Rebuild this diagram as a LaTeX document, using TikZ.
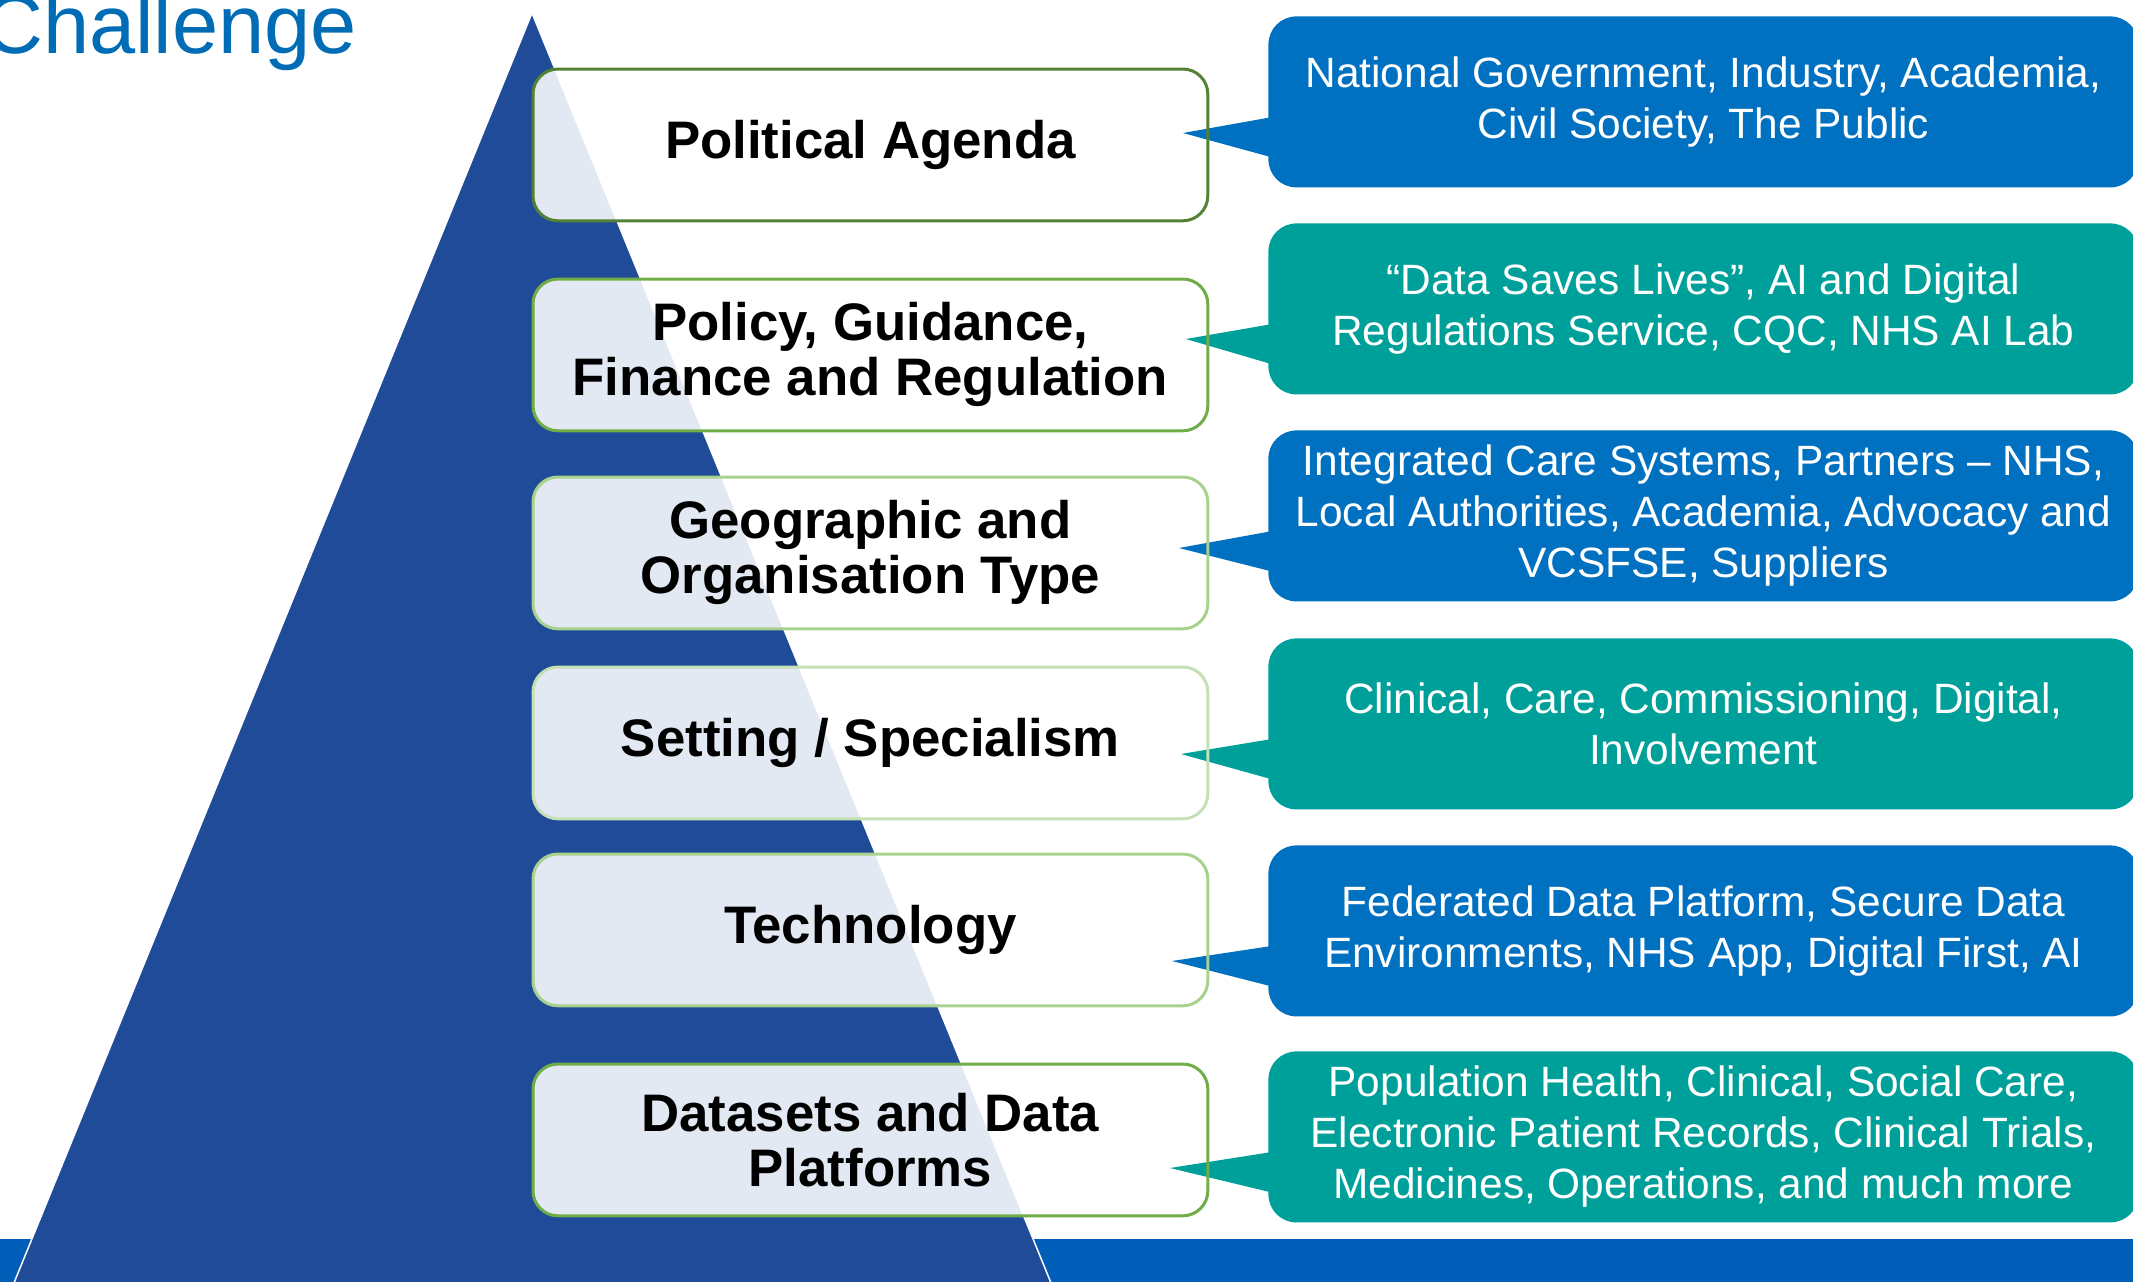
\documentclass[tikz,border=0pt]{standalone}
\usepackage{fontspec}
\setmainfont{Liberation Sans}
\definecolor{pyramid}{HTML}{1F4B99}
\definecolor{nhsbar}{HTML}{005EB8}
\definecolor{headblue}{HTML}{006CB5}
\definecolor{cblue}{HTML}{0070C0}
\definecolor{cteal}{HTML}{00A09A}
\definecolor{gdark}{HTML}{548235}
\definecolor{gmid}{HTML}{70AD47}
\definecolor{glight}{HTML}{A9D18E}
\definecolor{gpale}{HTML}{C5E0B4}

\begin{document}
\begin{tikzpicture}[x=0.5pt, y=-0.5pt]
		\tikzset{lvl/.style={anchor=north west, minimum width=337pt, minimum height=75.5pt, inner sep=0pt, rounded corners=12.5pt, fill=white, fill opacity=0.88, text opacity=1, align=center, font=\fontsize{26.4}{27.5}\selectfont\bfseries},
			rim/.style={line width=1.5pt, rounded corners=12.5pt},
			bubble/.style={anchor=north west, minimum width=435pt, minimum height=85.5pt, inner sep=0pt, rounded corners=14pt, text=white, align=center, font=\fontsize{21.2}{25.5}\selectfont}};

		\useasboundingbox (0,0) rectangle (2133,1281);
		\clip (0,0) rectangle (2133,1281);

		% heading, bottom bar and pyramid
		\node[anchor=base east, text=headblue, font=\fontsize{41.5}{48}\selectfont] (title) at (364,53) {Challenge};
		\fill[nhsbar] (-10,1239) rectangle (2150,1300);
		\filldraw[fill=pyramid, draw=white, line width=0.75pt] (532,13) -- (1058,1300) -- (7,1300) -- cycle;

		% levels
		\node[lvl] (l1) at (533,69) {Political Agenda};
		\node[lvl] (l2) at (533,279) {Policy, Guidance,\\Finance and Regulation};
		\node[lvl] (l3) at (533,477) {Geographic and\\Organisation Type};
		\node[lvl] (l4) at (533,667) {Setting / Specialism};
		\node[lvl] (l5) at (533,854) {Technology};
		\node[lvl] (l6) at (533,1064) {Datasets and Data\\Platforms};

		% callouts
		\node[bubble, fill=cblue] (c1) at (1268,16) {National Government, Industry, Academia,\\Civil Society, The Public};
		\node[bubble, fill=cteal] (c2) at (1268,223) {“Data Saves Lives”, AI and Digital\\Regulations Service, CQC, NHS AI Lab};
		\node[bubble, fill=cblue] (c3) at (1268,430) {Integrated Care Systems, Partners – NHS,\\Local Authorities, Academia, Advocacy and\\VCSFSE, Suppliers};
		\node[bubble, fill=cteal] (c4) at (1268,638) {Clinical, Care, Commissioning, Digital,\\Involvement};
		\node[bubble, fill=cblue] (c5) at (1268,845) {Federated Data Platform, Secure Data\\Environments, NHS App, Digital First, AI};
		\node[bubble, fill=cteal] (c6) at (1268,1051) {Population Health, Clinical, Social Care,\\Electronic Patient Records, Clinical Trials,\\Medicines, Operations, and much more};

		\coordinate (t1) at (1183,133);
		\coordinate (t2) at (1186,339);
		\coordinate (t3) at (1179,548);
		\coordinate (t4) at (1181,754);
		\coordinate (t5) at (1172,961);
		\coordinate (t6) at (1170,1168);

		\fill[cblue] ([shift={(10,100)}]c1.north west) -- (t1) -- ([shift={(10,143)}]c1.north west) -- cycle;
		\fill[cteal] ([shift={(10,100)}]c2.north west) -- (t2) -- ([shift={(10,143)}]c2.north west) -- cycle;
		\fill[cblue] ([shift={(10,100)}]c3.north west) -- (t3) -- ([shift={(10,143)}]c3.north west) -- cycle;
		\fill[cteal] ([shift={(10,100)}]c4.north west) -- (t4) -- ([shift={(10,143)}]c4.north west) -- cycle;
		\fill[cblue] ([shift={(10,100)}]c5.north west) -- (t5) -- ([shift={(10,143)}]c5.north west) -- cycle;
		\fill[cteal] ([shift={(10,100)}]c6.north west) -- (t6) -- ([shift={(10,143)}]c6.north west) -- cycle;

		% level outlines on top
		\draw[rim, gdark] (l1.south west) rectangle (l1.north east);
		\draw[rim, gmid] (l2.south west) rectangle (l2.north east);
		\draw[rim, glight] (l3.south west) rectangle (l3.north east);
		\draw[rim, gpale] (l4.south west) rectangle (l4.north east);
		\draw[rim, glight] (l5.south west) rectangle (l5.north east);
		\draw[rim, gmid] (l6.south west) rectangle (l6.north east);
	\end{tikzpicture}
\end{document}
